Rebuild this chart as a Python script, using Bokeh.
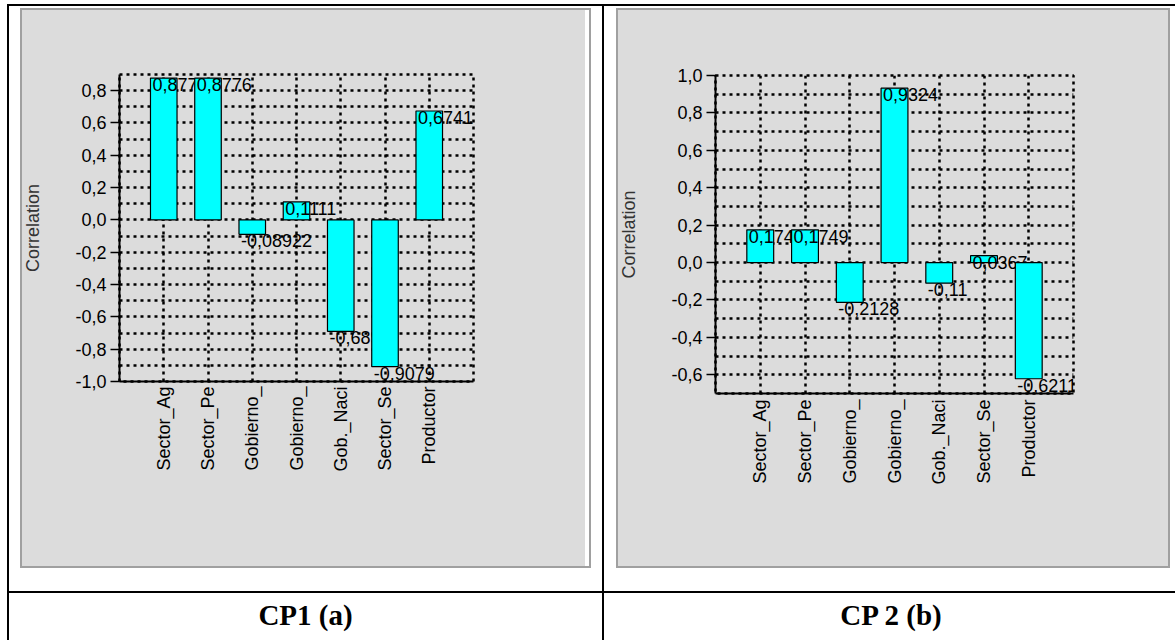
import math
import numpy as np
from bokeh.plotting import figure
from bokeh.models import FixedTicker, Div, Spacer, Range1d, CustomJSTickFormatter
from bokeh.layouts import row, column
from bokeh.embed import file_html
from bokeh.resources import INLINE
from bokeh.core.properties import value

# ---------------- data ----------------
categories = ["Sector_Ag", "Sector_Pe", "Gobierno_", "Gobierno_", "Gob._Naci", "Sector_Se", "Productor"]
cp1_values = [0.8776, 0.8776, -0.08922, 0.1111, -0.6893, -0.9079, 0.6741]
cp2_values = [0.1749, 0.1749, -0.2128, 0.9324, -0.11, 0.0367, -0.6211]
cp1_yticks = [-1.0, -0.8, -0.6, -0.4, -0.2, 0.0, 0.2, 0.4, 0.6, 0.8]
cp2_yticks = [-0.6, -0.4, -0.2, 0.0, 0.2, 0.4, 0.6, 0.8, 1.0]
captions = ["CP1 (a)", "CP 2 (b)"]
y_label = "Correlation"

FONT = "Liberation Sans"
PANEL = "#dcdcdc"
BAR = "#00ffff"


def fmt(v):
    return ("%.4g" % v).replace(".", ",")


def make_chart(vals, yticks, ystart, yend, w, h, bl, br, bt, bb, shadow, xstand):
    n = len(categories)
    pos = list(range(1, n + 1))
    p = figure(width=w, height=h, x_range=Range1d(0, n + 1), y_range=Range1d(ystart, yend),
               output_backend="svg", toolbar_location=None,
               min_border_left=bl, min_border_right=br, min_border_top=bt, min_border_bottom=bb)
    p.margin = 0
    p.border_fill_color = None
    p.background_fill_color = None
    p.styles = {"background-color": PANEL, "box-shadow": shadow}
    p.outline_line_color = "black"
    p.outline_line_width = 2.5
    p.outline_line_dash = "3 4"

    grid_y = [round(float(t), 1) for t in np.arange(ystart + 0.1, yend - 0.05, 0.1)]
    p.xgrid.ticker = FixedTicker(ticks=pos)
    p.ygrid.ticker = FixedTicker(ticks=grid_y)
    for g in (p.xgrid[0], p.ygrid[0]):
        g.grid_line_color = "black"
        g.grid_line_width = 2.5
        g.grid_line_dash = "3 4"

    xa = p.xaxis[0]
    xa.ticker = FixedTicker(ticks=pos)
    xa.major_label_overrides = {i + 1: c for i, c in enumerate(categories)}
    xa.major_label_orientation = math.pi / 2
    xa.major_tick_out = 0
    xa.major_tick_in = 0
    xa.minor_tick_out = 0
    xa.minor_tick_in = 0
    xa.major_label_standoff = xstand
    xa.axis_line_width = 2
    xa.major_label_text_font = FONT
    xa.major_label_text_font_size = "18px"
    xa.major_label_text_color = "black"

    ya = p.yaxis[0]
    ya.ticker = FixedTicker(ticks=yticks)
    ya.formatter = CustomJSTickFormatter(code="return tick.toFixed(1).replace('.', ',');")
    ya.major_tick_out = 9
    ya.major_tick_in = 0
    ya.minor_tick_out = 0
    ya.minor_tick_in = 0
    ya.major_tick_line_width = 1.5
    ya.major_label_standoff = 4
    ya.axis_line_width = 2
    ya.major_label_text_font = FONT
    ya.major_label_text_font_size = "18px"
    ya.major_label_text_color = "black"
    ya.axis_label = y_label
    ya.axis_label_text_font = FONT
    ya.axis_label_text_font_size = "18px"
    ya.axis_label_text_font_style = "normal"
    ya.axis_label_text_color = "#333333"
    ya.axis_label_standoff = 29

    half = 0.3
    for x, v in zip(pos, vals):
        p.vbar(x=[x], top=[v], bottom=0, width=2 * half, fill_color=BAR,
               line_color="black", line_width=1.2)
        p.text(x=[x - half], y=[v], text=[fmt(v)], text_font=value(FONT),
               text_font_size="18px", text_baseline="top", text_align="left",
               x_offset=2, text_color="black")
    return p


RW = 554
pL = make_chart(cp1_values, cp1_yticks, -1.0, 0.9, 571, 560, 99, 118, 66, 187,
                "inset 2px 2px 0 #a0a0a0, inset -2px -2px 0 #a0a0a0, inset -6px 0 0 #ffffff", 5)
pR = make_chart(cp2_values, cp2_yticks, -0.7, 1.0, RW, 560, 94, RW - 94 - 363, 67, 175,
                "inset 2px 2px 0 #a0a0a0, inset -2px -2px 0 #a0a0a0", 6)


def hline(w):
    return Div(text="", width=w, height=2, margin=0, styles={"background-color": "black"})


def vline(h):
    return Div(text="", width=2, height=h, margin=0, styles={"background-color": "black"})


def gap(w, h):
    return Spacer(width=w, height=h, margin=0)


CAP_H = 47


def caption(txt, w, pad_left):
    html = ('<div style="display:block;width:%dpx;font-family:\'Liberation Serif\',\'Times New Roman\',serif;'
            'font-weight:bold;font-size:29px;line-height:28px;padding-top:8px;'
            'padding-left:%dpx;box-sizing:border-box;text-align:center;color:black;white-space:nowrap;">%s</div>'
            % (w, pad_left, txt))
    return Div(text=html, width=w, height=CAP_H, margin=0)


TOTAL_W = 2 + 11 + 571 + 11 + 2 + 12 + RW + 5
top_row = row(
    vline(585), gap(11, 585),
    column(gap(571, 2), pL, gap(571, 23), spacing=0),
    gap(11, 585), vline(585), gap(12, 585),
    column(gap(RW, 2), pR, gap(RW, 23), spacing=0),
    gap(5, 585),
    spacing=0,
)
cap_row = row(vline(CAP_H), caption(captions[0], 593, 0), vline(CAP_H),
              caption(captions[1], TOTAL_W - 597, 3), spacing=0)

root = column(hline(TOTAL_W), top_row, hline(TOTAL_W), cap_row, spacing=0,
              styles={"margin-left": "7px", "margin-top": "4px"})

open("out.html", "w").write(file_html(root, INLINE))
